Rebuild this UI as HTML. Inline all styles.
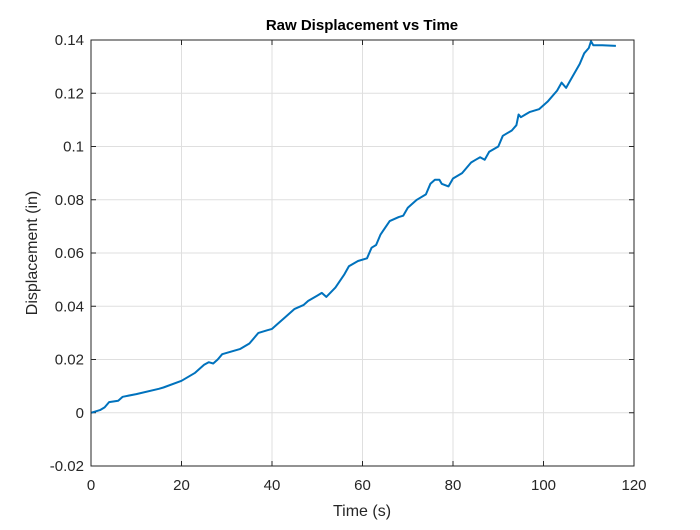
<!DOCTYPE html>
<html><head><meta charset="utf-8"><style>
body{margin:0;background:#fff;}
svg text{font-family:"Liberation Sans",Arial,sans-serif;fill:#262626;}
</style></head><body>
<svg id="chart" width="700" height="525">
<rect x="0" y="0" width="700" height="525" fill="#fff"/>
<rect x="91" y="40" width="543" height="426" fill="#fff"/>
<g id="grid"></g>
<g id="ticks"></g>
<path id="line" fill="none" stroke="#0072BD" stroke-width="2" stroke-linejoin="round"/>
<rect x="91" y="40" width="543" height="426" fill="none" stroke="#262626" stroke-width="1"/>
<text x="362" y="30" text-anchor="middle" font-size="15" font-weight="bold" style="fill:#000">Raw Displacement vs Time</text>
<text x="362" y="516" text-anchor="middle" font-size="16">Time (s)</text>
<text transform="translate(37,253) rotate(-90)" text-anchor="middle" font-size="16">Displacement (in)</text>
</svg>
<script>
const xTicks=[0,20,40,60,80,100,120];
const yTicks=[-0.02,0,0.02,0.04,0.06,0.08,0.1,0.12,0.14];
const yTickLabels=["-0.02","0","0.02","0.04","0.06","0.08","0.1","0.12","0.14"];
const times=[0,2,3,4,6,7,10,15,16,20,23,25,26,27,28,29,33,35,37,39,40,41,43,45,47,48,50,51,52,54,56,57,59,61,62,63,64,66,68,69,70,72,74,75,76,77,77.5,79,80,82,84,85,86,87,88,90,91,93,94,94.5,95,96,97,99,101,103,104,105,106,108,109,110,110.5,111,113,116];
const disp=[0,0.001,0.002,0.004,0.0045,0.006,0.007,0.009,0.0095,0.012,0.015,0.018,0.019,0.0185,0.02,0.022,0.024,0.026,0.03,0.031,0.0315,0.033,0.036,0.039,0.0405,0.042,0.044,0.045,0.0435,0.047,0.052,0.055,0.057,0.058,0.062,0.063,0.067,0.072,0.0735,0.074,0.077,0.08,0.082,0.086,0.0875,0.0875,0.086,0.085,0.088,0.09,0.094,0.095,0.096,0.095,0.098,0.1,0.104,0.106,0.108,0.112,0.111,0.112,0.113,0.114,0.117,0.121,0.124,0.122,0.125,0.131,0.135,0.137,0.1395,0.138,0.138,0.1378];
const X=v=>91+(v-0)/(120-0)*543;
const Y=v=>466-(v+0.02)/(0.16)*426;
const ns="http://www.w3.org/2000/svg";
const grid=document.getElementById('grid'),ticks=document.getElementById('ticks');
function mk(tag,attrs,parent){const e=document.createElementNS(ns,tag);for(const k in attrs)e.setAttribute(k,attrs[k]);parent.appendChild(e);return e;}
xTicks.forEach(t=>{
 const x=X(t);
 const g=mk('line',{x1:x,x2:x,y1:40,y2:466,stroke:'#dfdfdf','stroke-width':1},grid);
 
 
 mk('line',{x1:x,x2:x,y1:466,y2:461,stroke:'#262626'},ticks);
 mk('line',{x1:x,x2:x,y1:40,y2:45,stroke:'#262626'},ticks);
 const tx=mk('text',{x:x,y:490,'text-anchor':'middle','font-size':15},ticks);
 tx.textContent=t;
 
 
});
yTicks.forEach((t,i)=>{
 const y=Y(t);
 const g=mk('line',{x1:91,x2:634,y1:y,y2:y,stroke:'#dfdfdf','stroke-width':1},grid);
 
 
 mk('line',{x1:91,x2:96,y1:y,y2:y,stroke:'#262626'},ticks);
 mk('line',{x1:629,x2:634,y1:y,y2:y,stroke:'#262626'},ticks);
 const tx=mk('text',{x:84,y:y+5,'text-anchor':'end','font-size':15},ticks);
 tx.textContent=yTickLabels[i];
 
 
});
document.getElementById('line').setAttribute('d',times.map((t,i)=>(i?'L':'M')+X(t).toFixed(1)+','+Y(disp[i]).toFixed(1)).join(''));
</script>
</body></html>
